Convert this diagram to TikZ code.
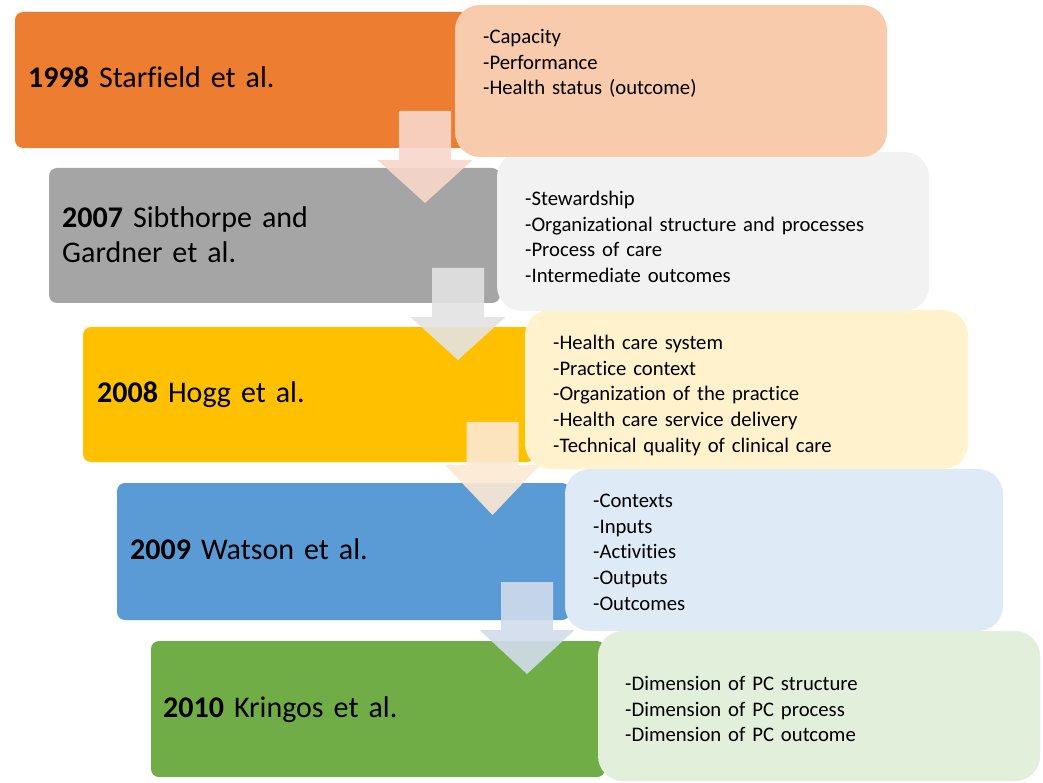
\documentclass[tikz,border=0pt]{standalone}
\usepackage{fontspec}
\setmainfont{Carlito}[Ligatures={NoCommon,NoContextual}]
\definecolor{lOr}{HTML}{ED7D31}
\definecolor{lGr}{HTML}{A5A5A5}
\definecolor{lYe}{HTML}{FFC000}
\definecolor{lBl}{HTML}{5B9BD5}
\definecolor{lGn}{HTML}{70AD47}
\definecolor{rOr}{HTML}{F8CBAD}
\definecolor{rGr}{HTML}{F2F2F2}
\definecolor{rYe}{HTML}{FFF2CC}
\definecolor{rBl}{HTML}{DEEBF7}
\definecolor{rGn}{HTML}{E2EFDA}
\definecolor{aOr}{HTML}{F9D7CB}
\definecolor{aGr}{HTML}{E3E3E3}
\definecolor{aYe}{HTML}{FCE9D3}
\definecolor{aBl}{HTML}{D1DCEC}
\newcommand{\blockarr}[5]{% cx, top, headbase, tip, colour
  \fill[#5, fill opacity=0.9]
    ({#1-26},#2) -- ({#1+26},#2) -- ({#1+26},#3) -- ({#1+47.5},#3) --
    (#1,#4) -- ({#1-47.5},#3) -- ({#1-26},#3) -- cycle;}
\begin{document}
\begin{tikzpicture}[x=1pt,y=-1pt,
  lbox/.style={rounded corners=8pt, inner sep=0pt},
  rbox/.style={rounded corners=25pt, inner sep=0pt},
  lab/.style={anchor=base west, inner sep=0pt, text width=430pt, align=left,
    font=\fontsize{30}{35}\selectfont},
  items/.style={anchor=base west, inner sep=0pt, text width=430pt, align=left,
    font=\fontsize{20.7}{25.6}\selectfont}]
\useasboundingbox (0,0) rectangle (1043,783);
\fill[white] (0,0) rectangle (1043,783);
% left boxes
\node[lbox, fill=lOr, minimum width=455pt, minimum height=136pt] (L1) at (242.5,80) {};
\node[lbox, fill=lGr, minimum width=451pt, minimum height=135pt] (L2) at (274.5,235.5) {};
\node[lbox, fill=lYe, minimum width=452pt, minimum height=135pt] (L3) at (309,394.5) {};
\node[lbox, fill=lBl, minimum width=453pt, minimum height=137pt] (L4) at (343.5,551.5) {};
\node[lbox, fill=lGn, minimum width=454pt, minimum height=136pt] (L5) at (378,709) {};
% right boxes
\node[rbox, fill=rGn, minimum width=442pt, minimum height=150pt] (R5) at (819,706) {};
\node[rbox, fill=rBl, minimum width=438pt, minimum height=162pt] (R4) at (784,550) {};
\node[rbox, fill=rYe, minimum width=443pt, minimum height=159pt] (R3) at (746.5,389.5) {};
\node[rbox, fill=rGr, minimum width=432pt, minimum height=159pt] (R2) at (713,231.5) {};
\node[rbox, fill=rOr, minimum width=432pt, minimum height=152pt] (R1) at (671,81) {};
% arrows
\blockarr{425}{111}{160}{203}{aOr}
\blockarr{458}{268}{317}{360}{aGr}
\blockarr{492.5}{422}{465}{515}{aYe}
\blockarr{527}{582}{630}{674}{aBl}
% labels
\node[lab] (t1) at (28,87.6) {\textbf{1998} Starfield et al.};
\node[lab] (t2) at (62,227.6) {\textbf{2007} Sibthorpe and\\Gardner et al.};
\node[lab] (t3) at (97,402.6) {\textbf{2008} Hogg et al.};
\node[lab] (t4) at (130,559.6) {\textbf{2009} Watson et al.};
\node[lab] (t5) at (163,717.6) {\textbf{2010} Kringos et al.};
% items
\node[items] (d1) at (483,43.7) {-Capacity\\-Performance\\-Health status (outcome)};
\node[items] (d2) at (525,205.7) {-Stewardship\\-Organizational structure and processes\\-Process of care\\-Intermediate outcomes};
\node[items] (d3) at (553,349.7) {-Health care system\\-Practice context\\-Organization of the practice\\-Health care service delivery\\-Technical quality of clinical care};
\node[items] (d4) at (593,507.7) {-Contexts\\-Inputs\\-Activities\\-Outputs\\-Outcomes};
\node[items] (d5) at (625,690.7) {-Dimension of PC structure\\-Dimension of PC process\\-Dimension of PC outcome};
\end{tikzpicture}
\end{document}
